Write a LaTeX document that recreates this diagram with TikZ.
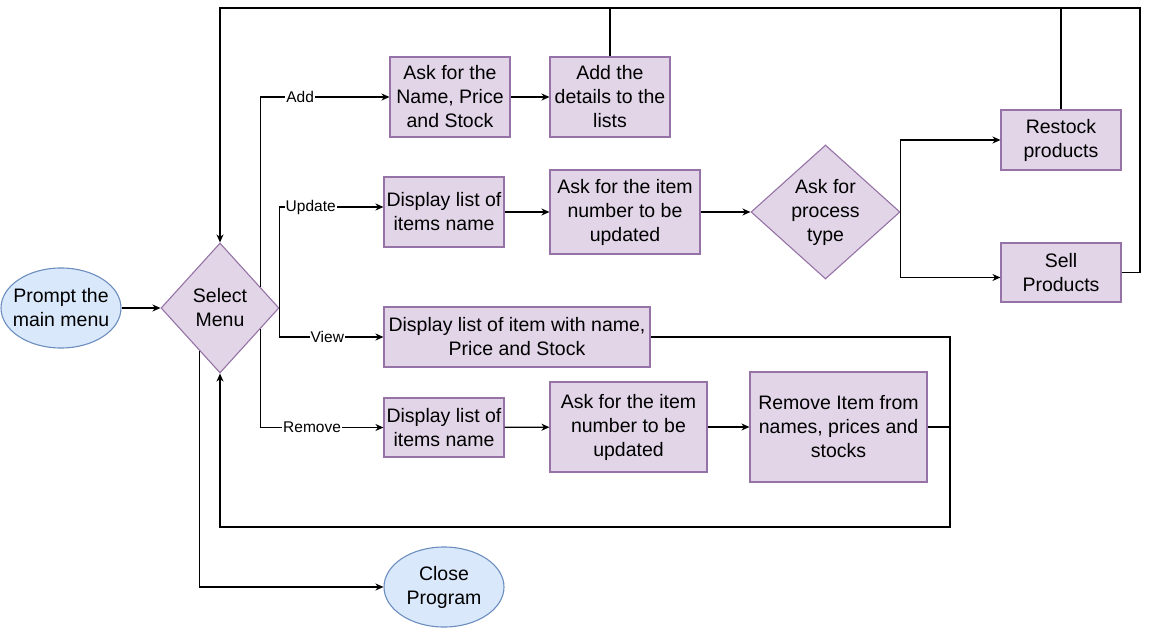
\documentclass[tikz,border=0pt]{standalone}
\usepackage{fontspec}
\setmainfont{Liberation Sans}
\usetikzlibrary{shapes.geometric,arrows.meta,calc}
\definecolor{pfill}{HTML}{E1D5E7}
\definecolor{pline}{HTML}{9673A6}
\definecolor{bfill}{HTML}{DAE8FC}
\definecolor{bline}{HTML}{6C8EBF}
\newcommand{\boxfont}{\fontsize{19.5pt}{24pt}\selectfont}
\newcommand{\lblfont}{\fontsize{15.5pt}{18pt}\selectfont}
\tikzset{
  procbox/.style={rectangle, draw=pline, fill=pfill, line width=1.1pt, align=center, inner sep=0pt, font=\boxfont},
  decbox/.style={diamond, draw=pline, fill=pfill, line width=1.1pt, align=center, inner sep=0pt, font=\boxfont},
  termbox/.style={ellipse, draw=bline, fill=bfill, line width=1.1pt, align=center, inner sep=0pt, font=\boxfont},
  conn/.style={line width=1.2pt, draw=black},
  arr/.style={conn, -{Stealth[length=8pt,width=7pt,inset=2.5pt]}},
  lbl/.style={fill=white, font=\lblfont, inner sep=1pt}
}
\begin{document}
\begin{tikzpicture}[x=1pt,y=-1pt]
\useasboundingbox (0,0) rectangle (1149,628);
% nodes
\node[termbox, inner xsep=-12pt, minimum width=120pt, minimum height=80pt] (prompt) at (61,308) {Prompt the\\main menu};
\node[decbox, minimum width=118pt, minimum height=130pt] (select) at (220,308) {Select\\Menu};
\node[procbox, minimum width=120pt, minimum height=80pt] (asknm) at (450,97) {Ask for the\\Name, Price\\and Stock};
\node[procbox, minimum width=120pt, minimum height=80pt] (addd) at (610,97) {Add the\\details to the\\lists};
\node[procbox, minimum width=120pt, minimum height=70pt] (disp1) at (444,212) {Display list of\\items name};
\node[procbox, minimum width=150pt, minimum height=84pt] (ask1) at (625,212) {Ask for the item\\number to be\\updated};
\node[decbox, aspect=1.1, minimum width=149pt, minimum height=134pt] (proc) at (825.5,212) {Ask for\\process\\type};
\node[procbox, minimum width=120pt, minimum height=60pt] (restock) at (1061,140) {Restock\\products};
\node[procbox, minimum width=120pt, minimum height=59pt] (sell) at (1061,272.5) {Sell\\Products};
\node[procbox, minimum width=266pt, minimum height=60pt] (view) at (517,337) {Display list of item with name,\\Price and Stock};
\node[procbox, minimum width=120pt, minimum height=59pt] (disp2) at (444,427.5) {Display list of\\items name};
\node[procbox, minimum width=157pt, minimum height=90pt] (ask2) at (628.5,427) {Ask for the item\\number to be\\updated};
\node[procbox, minimum width=177pt, minimum height=110pt] (remove) at (838.5,427) {Remove Item from\\names, prices and\\stocks};
\node[termbox, minimum width=120pt, minimum height=80pt] (close) at (444,587) {Close\\Program};
% helper coordinates
\coordinate (ytop) at (0,8);
\coordinate (xr) at (1140,0);
\coordinate (yb) at (0,527);
\coordinate (xb) at (950,0);
% connectors
\draw[arr] (prompt.east) -- (select.west);
\draw[arr] ($(select.north)!0.678!(select.east)$) |- node[lbl,pos=0.654]{Add} (asknm.west);
\draw[arr] (select.east) |- node[lbl,pos=0.65]{Update} ([yshift=5pt]disp1.west);
\draw[arr] (select.east) |- node[lbl,pos=0.73]{View} (view.west);
\draw[arr] ($(select.east)!0.322!(select.south)$) |- node[lbl,pos=0.71]{Remove} (disp2.west);
\draw[arr] ($(select.west)!0.661!(select.south)$) |- (close.west);
\draw[arr] (asknm) -- (addd);
\draw[arr] (disp1) -- (ask1);
\draw[arr] (ask1) -- (proc);
\draw[arr] (proc.east) |- (restock.west);
\draw[arr] (proc.east) |- ([yshift=-5pt]sell.west);
\draw[arr] (disp2) -- (ask2);
\draw[arr] (ask2) -- (remove);
% loops back
\draw[arr] (addd.north) -- (addd.north |- ytop) -| (select.north);
\draw[conn] (restock.north) -- (restock.north |- ytop);
\draw[conn] (sell.east) -- (xr |- sell.east) |- (addd.north |- ytop);
\draw[arr] (view.east) -- (xb |- view.east) -- (xb |- yb) -| (select.south);
\draw[conn] (remove.east) -- (xb |- remove.east);
\end{tikzpicture}
\end{document}
